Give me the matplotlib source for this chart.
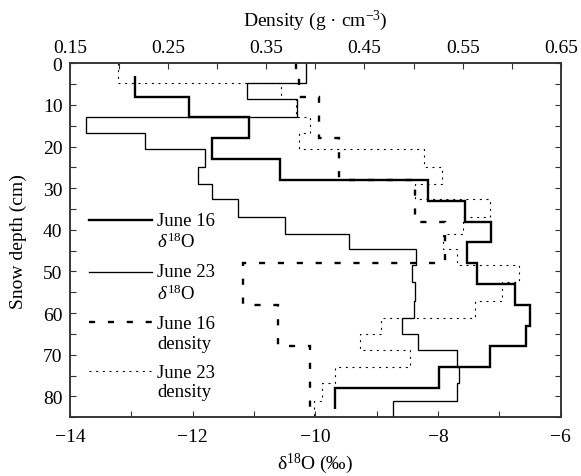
import numpy as np
import matplotlib
matplotlib.use("Agg")
import matplotlib.pyplot as plt
from matplotlib.lines import Line2D
from matplotlib.legend_handler import HandlerLine2D
from matplotlib.ticker import MultipleLocator, FixedLocator

# ---------------- data ----------------
# June 16 delta18O (per mil), sample depth edges (cm)
j16_d18o_edges = [3, 8, 13, 18, 23, 28, 33, 38, 43, 48, 53, 58, 63, 68, 73, 78, 83]
j16_d18o = [-12.94, -12.06, -11.08, -11.69, -10.58, -8.17, -7.56, -7.13,
            -7.53, -7.37, -6.75, -6.51, -6.57, -7.15, -7.98, -9.68]

# June 16 density (g cm-3)
j16_density_edges = [0, 4, 8, 18, 28, 38, 48, 58, 68, 83]
j16_density = [0.380, 0.383, 0.404, 0.424, 0.501, 0.532, 0.326, 0.362, 0.395]

# June 23 (same sampling for delta18O and density)
j23_edges = [0, 4.8, 8.6, 13.0, 16.8, 20.5, 24.8, 28.9, 32.6, 37.0, 41.0,
             44.7, 48.5, 52.6, 57.1, 61.1, 65.0, 68.9, 73.0, 76.8, 81.0, 85.0]
j23_d18o = [-10.15, -11.12, -10.30, -13.74, -12.78, -11.80, -11.91, -11.69,
            -11.26, -10.50, -9.45, -8.36, -8.43, -8.38, -8.40, -8.59, -8.32,
            -7.70, -7.66, -7.70, -8.74]
j23_density = [0.199, 0.365, 0.380, 0.394, 0.383, 0.511, 0.529, 0.501, 0.578,
               0.550, 0.530, 0.544, 0.607, 0.590, 0.563, 0.467, 0.445, 0.496,
               0.420, 0.407, 0.399]

d18o_ticks = [-14, -12, -10, -8, -6]
density_ticks = [0.15, 0.25, 0.35, 0.45, 0.55, 0.65]
depth_ticks = [0, 10, 20, 30, 40, 50, 60, 70, 80]

legend_labels = ["June 16\n$\\delta^{18}$O", "June 23\n$\\delta^{18}$O",
                 "June 16\ndensity", "June 23\ndensity"]

# ---------------- style ----------------
plt.rcParams['font.family'] = ['Liberation Serif', 'DejaVu Serif']
plt.rcParams['mathtext.fontset'] = 'custom'
plt.rcParams['mathtext.rm'] = 'Liberation Serif'
plt.rcParams['mathtext.it'] = 'Liberation Serif:italic'

fig = plt.figure(figsize=(5.81, 4.77), dpi=100)
axd = fig.add_axes([70 / 581, 1 - 418.3 / 477, 490.8 / 581, (418.3 - 64.2) / 477])
ax = axd.twiny()   # delta18O axis (bottom), drawn above density

thick = 1.7
thin = 0.95
dash16 = (0, (2.6, 5.4))
dot23 = (0, (1.8, 4.2))

# density on the density (top) axis
axd.stairs(j16_density, j16_density_edges, orientation='horizontal', baseline=None,
           edgecolor='black', linewidth=thick, linestyle=dash16)
axd.stairs(j23_density, j23_edges, orientation='horizontal', baseline=None,
           edgecolor='black', linewidth=0.8, linestyle=dot23)

# delta18O on the bottom axis
ax.stairs(j23_d18o, j23_edges, orientation='horizontal', baseline=None,
          edgecolor='black', linewidth=thin)
ax.stairs(j16_d18o, j16_d18o_edges, orientation='horizontal', baseline=None,
          edgecolor='black', linewidth=thick)

# axes setup
axd.set_xlim(0.15, 0.65)
ax.set_xlim(-14, -6)
axd.set_ylim(85, 0)
ax.set_ylim(85, 0)

axd.xaxis.tick_top()
axd.xaxis.set_label_position('top')
ax.xaxis.tick_bottom()
ax.xaxis.set_label_position('bottom')

axd.xaxis.set_major_locator(FixedLocator(density_ticks))
axd.xaxis.set_minor_locator(MultipleLocator(0.05))
axd.set_xticklabels([f"{v:.2f}" for v in density_ticks])
ax.xaxis.set_major_locator(FixedLocator(d18o_ticks))
ax.xaxis.set_minor_locator(MultipleLocator(1))
ax.set_xticklabels([f"\u2212{abs(v)}" for v in d18o_ticks])
axd.yaxis.set_major_locator(FixedLocator(depth_ticks))
axd.yaxis.set_minor_locator(MultipleLocator(5))
axd.set_yticklabels([str(v) for v in depth_ticks])

for a in (axd, ax):
    a.tick_params(which='both', direction='in', length=4, width=0.8,
                  labelsize=14, color='#333333')
    a.tick_params(which='both', right=True)
    for s in a.spines.values():
        s.set_linewidth(1.1)
        s.set_color('#333333')
axd.tick_params(which='both', left=True, right=True, top=True, bottom=False,
                labelbottom=False, labeltop=True)
axd.tick_params(axis='x', which='both', pad=5.5)
axd.tick_params(axis='y', which='both', pad=5.5)
ax.tick_params(which='both', top=False, bottom=True, pad=7.5)

axd.set_xlabel("Density (g \u00b7 cm$^{-3}$)", fontsize=14, labelpad=10)
ax.set_xlabel("\u03b4$^{18}$O (\u2030)", fontsize=14, labelpad=4)
axd.set_ylabel("Snow depth (cm)", fontsize=14, labelpad=11)


class FirstLineHandler(HandlerLine2D):
    def create_artists(self, legend, orig_handle, xdescent, ydescent,
                       width, height, fontsize, trans):
        arts = super().create_artists(legend, orig_handle, xdescent, ydescent,
                                      width, height, fontsize, trans)
        for a in arts:
            a.set_ydata(np.asarray(a.get_ydata()) + 0.6 * fontsize)
        return arts


handles = [Line2D([], [], color='black', linewidth=thick),
           Line2D([], [], color='black', linewidth=thin),
           Line2D([], [], color='black', linewidth=thick, linestyle=dash16),
           Line2D([], [], color='black', linewidth=0.8, linestyle=dot23)]
leg = ax.legend(handles, legend_labels, loc='upper left',
                bbox_to_anchor=(0.038, 0.581), frameon=False, fontsize=13.5,
                handlelength=3.4, handletextpad=0.25, labelspacing=0.65,
                borderpad=0, borderaxespad=0,
                handler_map={Line2D: FirstLineHandler()})

fig.savefig("out.png", dpi=100)
